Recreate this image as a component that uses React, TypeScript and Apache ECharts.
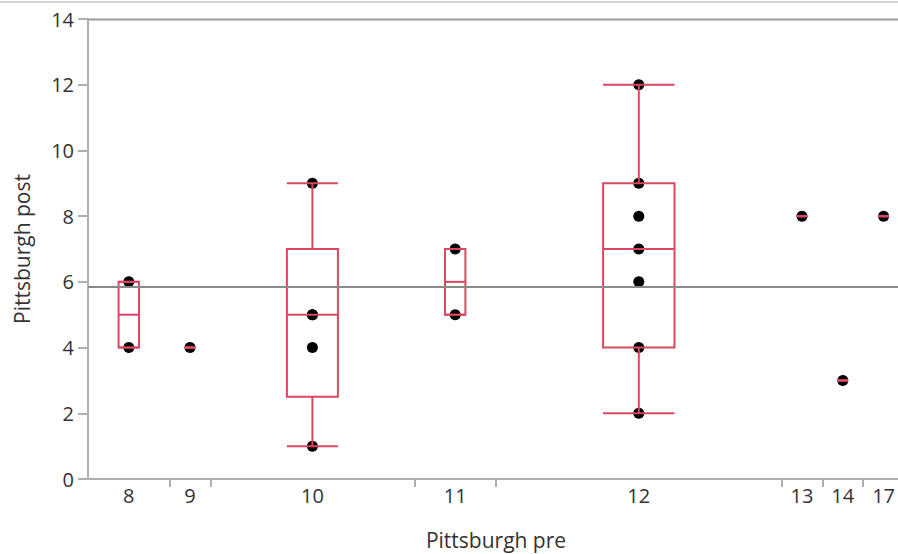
import React, { useEffect, useRef } from "react";
import * as echarts from "echarts";

const categories = ["8", "9", "10", "11", "12", "13", "14", "17"];
const groupValues: number[][] = [
  [4, 6],
  [4],
  [1, 4, 5, 5, 9],
  [5, 7],
  [2, 4, 6, 7, 8, 9, 12],
  [8],
  [3],
  [8],
];
const yTicks = { min: 0, max: 14, interval: 2 };

function quantile(sorted: number[], p: number) {
  const n = sorted.length;
  const pos = p * (n + 1);
  if (pos <= 1) return sorted[0];
  if (pos >= n) return sorted[n - 1];
  const lo = Math.floor(pos);
  const frac = pos - lo;
  return sorted[lo - 1] + frac * (sorted[lo] - sorted[lo - 1]);
}

export default function App() {
  const ref = useRef<HTMLDivElement>(null);
  useEffect(() => {
    document.body.style.margin = "0";
    if (!ref.current) return;
    const chart = echarts.init(ref.current, undefined, { renderer: "svg" });

    const starts: number[] = [];
    let acc = 0;
    groupValues.forEach((g) => {
      starts.push(acc);
      acc += g.length;
    });
    const total = acc;
    const centers = groupValues.map((g, i) => starts[i] + g.length / 2);
    const boundaries = starts.slice(1);

    const points: number[][] = [];
    groupValues.forEach((g, i) => g.forEach((v) => points.push([centers[i], v])));
    const allVals = groupValues.flat();
    const mean = allVals.reduce((a, b) => a + b, 0) / allVals.length;

    const boxData = groupValues.map((g, i) => {
      const s = [...g].sort((a, b) => a - b);
      const q1 = quantile(s, 0.25);
      const med = quantile(s, 0.5);
      const q3 = quantile(s, 0.75);
      const iqr = q3 - q1;
      const lo = s.find((v) => v >= q1 - 1.5 * iqr) as number;
      const hi = [...s].reverse().find((v) => v <= q3 + 1.5 * iqr) as number;
      return [centers[i], lo, q1, med, q3, hi, g.length * 0.125];
    });

    const red = "#dc4660";
    const labelMap: Record<string, string> = {};
    centers.forEach((c, i) => (labelMap[String(c)] = categories[i]));
    const font = "Open Sans";

    chart.setOption({
      animation: false,
      textStyle: { fontFamily: font },
      grid: { left: 88, top: 19, bottom: 75, right: -6, outerBoundsMode: "none" },
      xAxis: {
        type: "value",
        min: 0,
        max: total,
        name: "Pittsburgh pre",
        nameLocation: "middle",
        nameGap: 50,
        nameTextStyle: { fontSize: 21, color: "#333", fontFamily: font },
        axisLine: { show: true, lineStyle: { color: "#b0b0b0", width: 2 } },
        axisTick: { show: true, length: 8, customValues: boundaries, lineStyle: { color: "#b0b0b0", width: 2 } },
        axisLabel: {
          customValues: centers,
          formatter: (v: number) => labelMap[String(v)] ?? "",
          fontSize: 20,
          color: "#333",
          margin: 6,
          fontFamily: font,
        },
        splitLine: { show: false },
      },
      yAxis: {
        type: "value",
        min: yTicks.min,
        max: yTicks.max,
        interval: yTicks.interval,
        name: "Pittsburgh post",
        nameLocation: "middle",
        nameGap: 56,
        nameTextStyle: { fontSize: 21, color: "#333", fontFamily: font },
        axisLine: { show: true, lineStyle: { color: "#b0b0b0", width: 2 } },
        axisTick: { show: true, length: 10, lineStyle: { color: "#b0b0b0", width: 2 } },
        axisLabel: { fontSize: 20, color: "#333", margin: 14, fontFamily: font },
        splitLine: { show: false },
      },
      graphic: [
        { type: "line", shape: { x1: 0, y1: 2, x2: 898, y2: 2 }, style: { stroke: "#d4d4d4", lineWidth: 2 }, silent: true },
        { type: "line", shape: { x1: 88, y1: 19.5, x2: 898, y2: 19.5 }, style: { stroke: "#9c9c9c", lineWidth: 2 }, silent: true },
      ],
      series: [
        {
          type: "scatter",
          data: points,
          symbolSize: 11,
          itemStyle: { color: "#000", opacity: 1 },
          z: 2,
          markLine: {
            silent: true,
            symbol: "none",
            label: { show: false },
            lineStyle: { color: "#8a8a8a", width: 2, type: "solid" },
            data: [{ yAxis: mean }],
          },
        },
        {
          type: "custom",
          z: 3,
          data: boxData,
          renderItem: (params: any, api: any) => {
            const c = api.value(0);
            const hw = api.value(6);
            const [xl, yMin] = api.coord([c - hw, api.value(1)]);
            const [xr, yQ1] = api.coord([c + hw, api.value(2)]);
            const [xc, yMed] = api.coord([c, api.value(3)]);
            const yQ3 = api.coord([c, api.value(4)])[1];
            const yMax = api.coord([c, api.value(5)])[1];
            const st = { stroke: red, lineWidth: 2, fill: "none" };
            return {
              type: "group",
              children: [
                { type: "line", shape: { x1: xc, y1: yQ3, x2: xc, y2: yMax }, style: st },
                { type: "line", shape: { x1: xc, y1: yQ1, x2: xc, y2: yMin }, style: st },
                { type: "line", shape: { x1: xl, y1: yMax, x2: xr, y2: yMax }, style: st },
                { type: "line", shape: { x1: xl, y1: yMin, x2: xr, y2: yMin }, style: st },
                { type: "rect", shape: { x: xl, y: yQ3, width: xr - xl, height: yQ1 - yQ3 }, style: st },
                { type: "line", shape: { x1: xl, y1: yMed, x2: xr, y2: yMed }, style: st },
              ],
            };
          },
        },
      ],
    });
    return () => chart.dispose();
  }, []);
  return <div ref={ref} style={{ width: 898, height: 554 }} />;
}
